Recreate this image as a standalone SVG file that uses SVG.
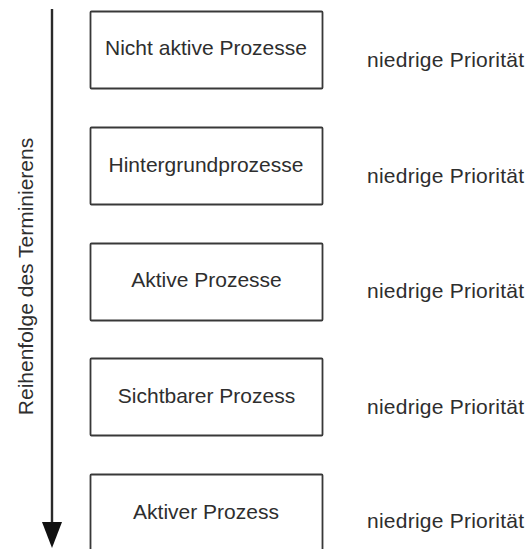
<svg xmlns="http://www.w3.org/2000/svg" width="528" height="549" viewBox="0 0 528 549">
  <style>
    .box { fill: #ffffff; stroke: #383838; stroke-width: 1.8; }
    .lbl { font-family: "Liberation Sans", Arial, sans-serif; font-size: 21px; fill: #2e2e2e; text-anchor: middle; }
    .prio { font-family: "Liberation Sans", Arial, sans-serif; font-size: 21px; fill: #2e2e2e; }
    .axis { stroke: #2a2a2a; stroke-width: 2.4; fill: none; }
  </style>
  <rect width="528" height="549" fill="#ffffff"/>

  <!-- ordering axis -->
  <g id="connectors">
    <line class="axis" x1="52" y1="9" x2="52" y2="524"/>
    <polygon points="42,522 62,522 52,548" fill="#111111"/>
  </g>
  <text class="prio" transform="translate(33,276.5) rotate(-90)" text-anchor="middle">Reihenfolge des Terminierens</text>

  <!-- process classes -->
  <g id="node-nicht-aktiv">
    <rect class="box" x="90.5" y="11.5" width="232" height="77" rx="1"/>
    <text class="lbl" x="206" y="55">Nicht aktive Prozesse</text>
  </g>
  <g id="node-hintergrund">
    <rect class="box" x="90.5" y="127.5" width="232" height="77" rx="1"/>
    <text class="lbl" x="206" y="171.5">Hintergrundprozesse</text>
  </g>
  <g id="node-aktive">
    <rect class="box" x="90.5" y="243.5" width="232" height="77" rx="1"/>
    <text class="lbl" x="206.5" y="287">Aktive Prozesse</text>
  </g>
  <g id="node-sichtbar">
    <rect class="box" x="90.5" y="358.5" width="232" height="77" rx="1"/>
    <text class="lbl" x="206.5" y="403">Sichtbarer Prozess</text>
  </g>
  <g id="node-aktiver">
    <rect class="box" x="90.5" y="474.5" width="232" height="90" rx="1"/>
    <text class="lbl" x="206" y="519">Aktiver Prozess</text>
  </g>

  <!-- priority labels -->
  <g id="priorities">
    <text class="prio" x="367" y="67" textLength="157" lengthAdjust="spacing">niedrige Priorität</text>
    <text class="prio" x="367" y="182.5" textLength="157" lengthAdjust="spacing">niedrige Priorität</text>
    <text class="prio" x="367" y="298" textLength="157" lengthAdjust="spacing">niedrige Priorität</text>
    <text class="prio" x="367" y="414" textLength="157" lengthAdjust="spacing">niedrige Priorität</text>
    <text class="prio" x="367" y="527.5" textLength="157" lengthAdjust="spacing">niedrige Priorität</text>
  </g>
</svg>
